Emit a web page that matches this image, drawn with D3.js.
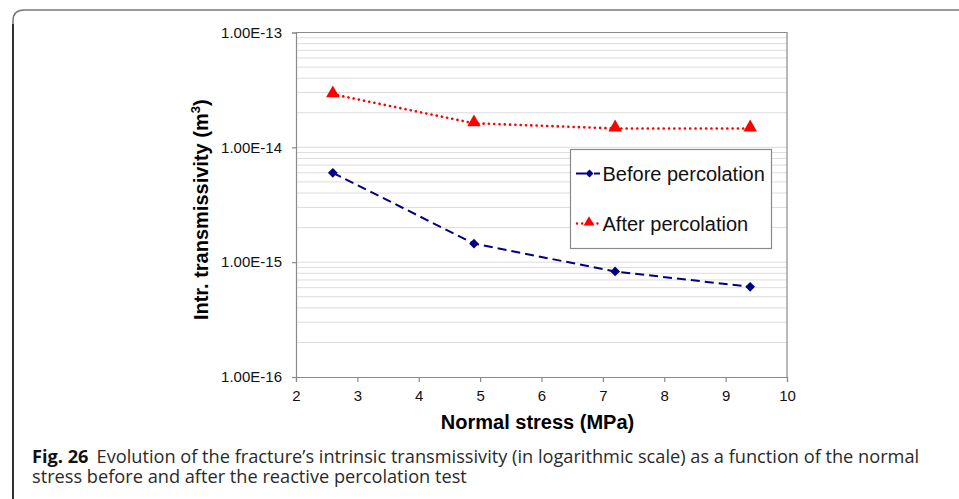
<!DOCTYPE html>
<html>
<head>
<meta charset="utf-8">
<script src="https://cdn.jsdelivr.net/npm/d3@7"></script>
<style>
  html, body { margin: 0; padding: 0; background: #fff; }
  svg { display: block; }
</style>
</head>
<body>
<svg id="chart" width="959" height="499"></svg>
<script>
// Normal stress (MPa) at each measurement step
const stress = [2.6, 4.9, 7.2, 9.4];
// Intrinsic transmissivity (m^3)
const beforePercolation = [6.0e-15, 1.45e-15, 8.3e-16, 6.1e-16];
const afterPercolation = [2.9e-14, 1.62e-14, 1.46e-14, 1.46e-14];
const seriesNames = ["Before percolation", "After percolation"];
const xTicks = [2, 3, 4, 5, 6, 7, 8, 9, 10];
const yTicks = [1e-13, 1e-14, 1e-15, 1e-16];
const captionLead = "Fig. 26";
const captionLine1 = "Evolution of the fracture\u2019s intrinsic transmissivity (in logarithmic scale) as a function of the normal";
const captionLine2 = "stress before and after the reactive percolation test";

const svg = d3.select("#chart");
const chartFont = "'Liberation Sans', Arial, sans-serif";
const captionFont = "'Open Sans', 'Noto Sans', sans-serif";

// Frame with rounded top-left corner
svg.append("path")
  .attr("d", "M13,499 L13,21 Q13,10 24,10 L959,10")
  .attr("fill", "none").attr("stroke", "#777").attr("stroke-width", 1.5);
svg.append("path")
  .attr("d", "M13,499 L13,24")
  .attr("fill", "none").attr("stroke", "#111").attr("stroke-width", 1.5);

const plot = { left: 296, right: 787, top: 32.5, bottom: 377 };

const x = d3.scaleLinear().domain([2, 10]).range([plot.left, plot.right]);
const y = d3.scaleLog().domain([1e-16, 1e-13]).range([plot.bottom, plot.top]);

// Horizontal gridlines at every log step
const gridVals = [];
for (let e = -16; e < -13; e++) {
  for (let m = 1; m <= 9; m++) gridVals.push(m * Math.pow(10, e));
}
svg.append("g").selectAll("line").data(gridVals.filter(v => v > 1e-16 && v < 1e-13))
  .join("line")
  .attr("x1", plot.left).attr("x2", plot.right)
  .attr("y1", d => y(d)).attr("y2", d => y(d))
  .attr("stroke", "#dcdcdc").attr("stroke-width", 1);

// Plot border (top and right)
svg.append("path")
  .attr("d", `M${plot.left},${plot.top} L${plot.right},${plot.top} L${plot.right},${plot.bottom}`)
  .attr("fill", "none").attr("stroke", "#8a8a8a").attr("stroke-width", 1.2);

// Axes
const xAxis = d3.axisBottom(x).tickValues(xTicks).tickFormat(d3.format("d"))
  .tickSizeOuter(0).tickSize(5).tickPadding(8);
const yAxis = d3.axisLeft(y).tickValues(yTicks)
  .tickFormat(d => d.toExponential(2).toUpperCase().replace(/E-(\d)$/, "E-0$1"))
  .tickSizeOuter(0).tickSize(4).tickPadding(10);

const gx = svg.append("g").attr("transform", `translate(0,${plot.bottom})`).call(xAxis);
const gy = svg.append("g").attr("transform", `translate(${plot.left},0)`).call(yAxis);
[gx, gy].forEach(g => {
  g.select(".domain").attr("stroke", "#8a8a8a").attr("stroke-width", 1.2);
  g.selectAll(".tick line").attr("stroke", "#8a8a8a").attr("stroke-width", 1.2);
  g.selectAll(".tick text").attr("font-family", chartFont).attr("font-size", 15).attr("fill", "#111");
});

// Axis titles
svg.append("text")
  .attr("x", (plot.left + plot.right) / 2 - 4).attr("y", 429)
  .attr("text-anchor", "middle")
  .attr("font-family", chartFont).attr("font-weight", "bold").attr("font-size", 20).attr("fill", "#000")
  .text("Normal stress (MPa)");

const yTitle = svg.append("text")
  .attr("transform", `translate(208,${(plot.top + plot.bottom) / 2 + 5}) rotate(-90)`)
  .attr("text-anchor", "middle")
  .attr("font-family", chartFont).attr("font-weight", "bold").attr("font-size", 20).attr("fill", "#000");
yTitle.append("tspan").text("Intr. transmissivity (m");
yTitle.append("tspan").attr("font-size", 13).attr("dy", -8).text("3");
yTitle.append("tspan").attr("dy", 8).text(")");

// Series
const line = d3.line().x(d => x(d[0])).y(d => y(d[1]));
const beforeData = stress.map((s, i) => [s, beforePercolation[i]]);
const afterData = stress.map((s, i) => [s, afterPercolation[i]]);

const blue = "#000080";
const red = "#ff0000";

svg.append("path").datum(beforeData).attr("d", line)
  .attr("fill", "none").attr("stroke", blue).attr("stroke-width", 2)
  .attr("stroke-dasharray", "9,5");
svg.append("path").datum(afterData).attr("d", line)
  .attr("fill", "none").attr("stroke", red).attr("stroke-width", 2.6)
  .attr("stroke-dasharray", "0.1,5.2").attr("stroke-linecap", "round");

const diamond = d3.symbol().type(d3.symbolDiamond2).size(60);
const triangle = d3.symbol().type(d3.symbolTriangle).size(80);

svg.append("g").selectAll("path").data(beforeData).join("path")
  .attr("d", diamond)
  .attr("transform", d => `translate(${x(d[0])},${y(d[1])})`)
  .attr("fill", blue);
svg.append("g").selectAll("path").data(afterData).join("path")
  .attr("d", triangle)
  .attr("transform", d => `translate(${x(d[0])},${y(d[1]) - 1})`)
  .attr("fill", red);

// Legend
const lg = svg.append("g");
lg.append("rect")
  .attr("x", 570.5).attr("y", 149.5).attr("width", 201).attr("height", 99)
  .attr("fill", "#fff").attr("stroke", "#8a8a8a").attr("stroke-width", 1.2);
const legendRows = [
  { name: seriesNames[0], cy: 173.5 },
  { name: seriesNames[1], cy: 223.5 }
];
// Before: solid lead-in, marker, dashed tail
lg.append("line").attr("x1", 576).attr("x2", 586).attr("y1", 173.5).attr("y2", 173.5)
  .attr("stroke", blue).attr("stroke-width", 2);
lg.append("line").attr("x1", 594).attr("x2", 600).attr("y1", 173.5).attr("y2", 173.5)
  .attr("stroke", blue).attr("stroke-width", 2);
lg.append("path").attr("d", d3.symbol().type(d3.symbolDiamond2).size(40))
  .attr("transform", "translate(589.5,173.5)").attr("fill", blue);
// After: dotted line with marker
lg.append("line").attr("x1", 577).attr("x2", 600).attr("y1", 223.5).attr("y2", 223.5)
  .attr("stroke", red).attr("stroke-width", 2.4).attr("stroke-dasharray", "0.1,5").attr("stroke-linecap", "round");
lg.append("path").attr("d", d3.symbol().type(d3.symbolTriangle).size(50))
  .attr("transform", "translate(589,222.5)").attr("fill", red);

lg.selectAll("text").data(legendRows).join("text")
  .attr("x", 602.5).attr("y", d => d.cy + 7)
  .attr("font-family", chartFont).attr("font-size", 20).attr("fill", "#111")
  .text(d => d.name);

// Caption: one text block, bold lead then two lines
const caption = svg.append("text").attr("x", 32).attr("y", 463)
  .attr("font-family", captionFont).attr("font-size", 18.2).attr("fill", "#2a2a2a");
caption.append("tspan").attr("font-weight", "bold").attr("fill", "#111").text(captionLead);
caption.append("tspan").attr("dx", 8).text(captionLine1);
caption.append("tspan").attr("x", 32).attr("dy", 20).text(captionLine2);
</script>
</body>
</html>
